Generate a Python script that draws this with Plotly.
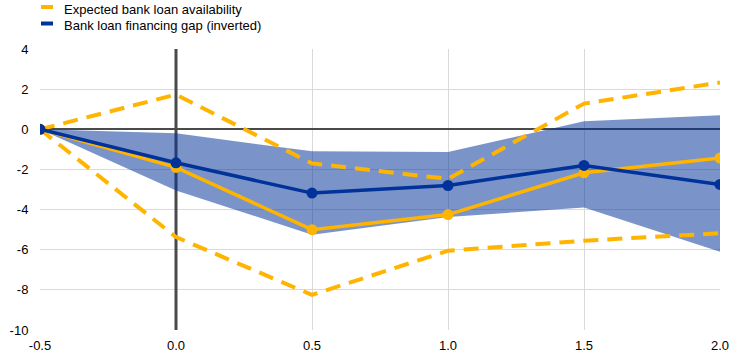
import plotly.graph_objects as go

x = [-0.5, 0.0, 0.5, 1.0, 1.5, 2.0]
availability = [0.0, -1.9, -5.0, -4.25, -2.17, -1.43]
avail_upper = [0.0, 1.73, -1.7, -2.47, 1.28, 2.33]
avail_lower = [0.0, -5.37, -8.25, -6.05, -5.55, -5.18]
financing_gap = [0.0, -1.67, -3.18, -2.8, -1.8, -2.75]
gap_upper = [0.0, -0.2, -1.1, -1.13, 0.4, 0.7]
gap_lower = [0.0, -3.05, -5.25, -4.37, -3.9, -6.1]

x_ticks = [-0.5, 0.0, 0.5, 1.0, 1.5, 2.0]
x_tick_labels = ["-0.5", "0.0", "0.5", "1.0", "1.5", "2.0"]
y_ticks = [-10, -8, -6, -4, -2, 0, 2, 4]
y_tick_labels = ["-10", "-8", "-6", "-4", "-2", "0", "2", "4"]
legend_names = ["Expected bank loan availability", "Bank loan financing gap (inverted)"]

ORANGE = "#FFB400"
NAVY = "#003299"
BAND = "rgba(0,50,153,0.52)"

W, H = 744, 357
ML, MR, MT, MB = 40, 24, 49, 27
PW, PH = W - ML - MR, H - MT - MB


def px_x(p):
    return (p - ML) / PW


def px_y(p):
    return (H - MB - p) / PH


fig = go.Figure()

# band
fig.add_trace(go.Scatter(x=x, y=gap_upper, mode="lines", line=dict(width=0),
                         showlegend=False, hoverinfo="skip"))
fig.add_trace(go.Scatter(x=x, y=gap_lower, mode="lines", line=dict(width=0),
                         fill="tonexty", fillcolor=BAND, showlegend=False, hoverinfo="skip"))

# dashed bounds
fig.add_trace(go.Scatter(x=x, y=avail_upper, mode="lines",
                         line=dict(color=ORANGE, width=4, dash="15px,9px"), showlegend=False))
fig.add_trace(go.Scatter(x=x, y=avail_lower, mode="lines",
                         line=dict(color=ORANGE, width=4, dash="15px,9px"), showlegend=False))

fig.add_trace(go.Scatter(x=x, y=availability, mode="lines+markers", name=legend_names[0],
                         line=dict(color=ORANGE, width=3.5), marker=dict(size=11, color=ORANGE),
                         showlegend=False))
fig.add_trace(go.Scatter(x=x, y=financing_gap, mode="lines+markers", name=legend_names[1],
                         line=dict(color=NAVY, width=3.5), marker=dict(size=11, color=NAVY),
                         showlegend=False))

fig.add_shape(type="line", x0=0, x1=0, y0=-10, y1=4, xref="x", yref="y",
              layer="between", line=dict(color="#4A4A4A", width=3))

# custom legend
for name, col, sym_y, txt_y in [(legend_names[0], ORANGE, 7, 10),
                                 (legend_names[1], NAVY, 23.5, 25)]:
    fig.add_shape(type="rect", xref="paper", yref="paper",
                  x0=px_x(41), x1=px_x(53), y0=px_y(sym_y - 2), y1=px_y(sym_y + 2),
                  fillcolor=col, line=dict(width=0))
    fig.add_annotation(text=name, xref="paper", yref="paper", x=px_x(62), y=px_y(txt_y),
                       xanchor="left", yanchor="middle", showarrow=False,
                       font=dict(size=13, color="#000000"))

fig.update_layout(
    width=W, height=H,
    margin=dict(l=ML, r=MR, t=MT, b=MB, autoexpand=False),
    plot_bgcolor="white", paper_bgcolor="white",
    font=dict(family="Liberation Sans, Arial, sans-serif", size=13, color="#000000"),
    showlegend=False,
    xaxis=dict(range=[-0.5, 2.0], tickvals=x_ticks, ticktext=x_tick_labels,
               showgrid=True, gridcolor="#D9D9D9", gridwidth=1,
               zeroline=False, showline=False, ticks="outside", ticklen=3,
               tickcolor="rgba(0,0,0,0)", tickfont=dict(size=13)),
    yaxis=dict(range=[-10, 4], tickvals=y_ticks, ticktext=y_tick_labels,
               showgrid=True, gridcolor="#D9D9D9",
               gridwidth=1, zeroline=True, zerolinecolor="#4A4A4A", zerolinewidth=2,
               showline=False, ticks="outside", ticklen=8, tickcolor="rgba(0,0,0,0)",
               tickfont=dict(size=13)),
)

fig.write_html("out.html",
               config={"displayModeBar": False},
               post_script="document.body.style.margin='0';document.body.style.padding='0';")
